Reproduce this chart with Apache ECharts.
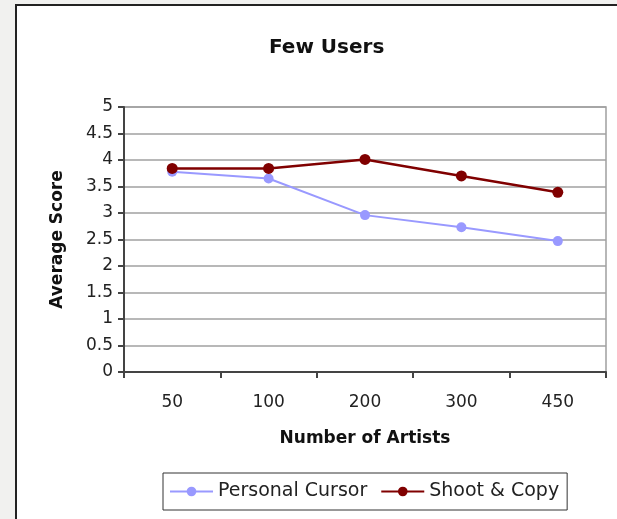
<!DOCTYPE html>
<html>
<head>
<meta charset="utf-8">
<script src="https://cdn.jsdelivr.net/npm/echarts@6/dist/echarts.min.js"></script>
<style>
html,body{margin:0;padding:0;background:#f1f1ef;}
#c{width:617px;height:519px;}
</style>
</head>
<body>
<div id="c"></div>
<script>
const titleText = "Few Users";
const categories = ["50", "100", "200", "300", "450"];
const personalCursor = [3.78, 3.65, 2.96, 2.73, 2.47];
const shootCopy = [3.84, 3.84, 4.01, 3.70, 3.39];
const yMin = 0, yMax = 5, yStep = 0.5;

const FONT = "DejaVu Sans";
const chart = echarts.init(document.getElementById('c'), null, {renderer: 'canvas'});
chart.setOption({
  backgroundColor: '#f1f1ef',
  animation: false,
  graphic: [{
    type: 'rect', z: -10, silent: true,
    shape: {x: 16, y: 5, width: 800, height: 700},
    style: {fill: '#ffffff', stroke: '#222222', lineWidth: 2}
  }],
  title: {
    text: titleText, left: 264, top: 33,
    textStyle: {fontFamily: FONT, fontWeight: 'bold', fontSize: 20, color: '#111'}
  },
  grid: {
    left: 124, right: 11, top: 107, bottom: 147,
    show: true, borderColor: '#a0a0a0', borderWidth: 1.5, backgroundColor: 'transparent'
  },
  legend: {
    left: 163, top: 473,
    padding: [9, 8, 9, 6],
    borderColor: '#333', borderWidth: 1,
    itemWidth: 43, itemHeight: 12, itemGap: 13,
    textStyle: {fontFamily: FONT, fontSize: 19, color: '#222'},
    data: ['Personal Cursor', 'Shoot & Copy']
  },
  xAxis: {
    type: 'category', data: categories, boundaryGap: true,
    name: 'Number of Artists', nameLocation: 'middle', nameGap: 58,
    nameTextStyle: {fontFamily: FONT, fontWeight: 'bold', fontSize: 17, color: '#111'},
    axisLine: {lineStyle: {color: '#444', width: 2}},
    axisTick: {show: true, inside: false, length: 6, alignWithLabel: false, lineStyle: {color: '#444', width: 2}},
    axisLabel: {fontFamily: FONT, fontSize: 17, color: '#222', margin: 22}
  },
  yAxis: {
    type: 'value', min: yMin, max: yMax, interval: yStep,
    name: 'Average Score', nameLocation: 'middle', nameGap: 58,
    nameTextStyle: {fontFamily: FONT, fontWeight: 'bold', fontSize: 17, color: '#111'},
    axisLine: {show: true, lineStyle: {color: '#444', width: 2}},
    axisTick: {show: true, inside: false, length: 6, lineStyle: {color: '#444', width: 2}},
    axisLabel: {fontFamily: FONT, fontSize: 17, color: '#222', margin: 11},
    splitLine: {show: true, lineStyle: {color: '#a0a0a0', width: 1.5}}
  },
  series: [
    {
      name: 'Personal Cursor', type: 'line', data: personalCursor,
      symbol: 'circle', symbolSize: 10,
      lineStyle: {color: '#9999ff', width: 2},
      itemStyle: {color: '#9999ff'}
    },
    {
      name: 'Shoot & Copy', type: 'line', data: shootCopy,
      symbol: 'circle', symbolSize: 11,
      lineStyle: {color: '#800000', width: 2.5},
      itemStyle: {color: '#800000'}
    }
  ]
});
</script>
</body>
</html>
